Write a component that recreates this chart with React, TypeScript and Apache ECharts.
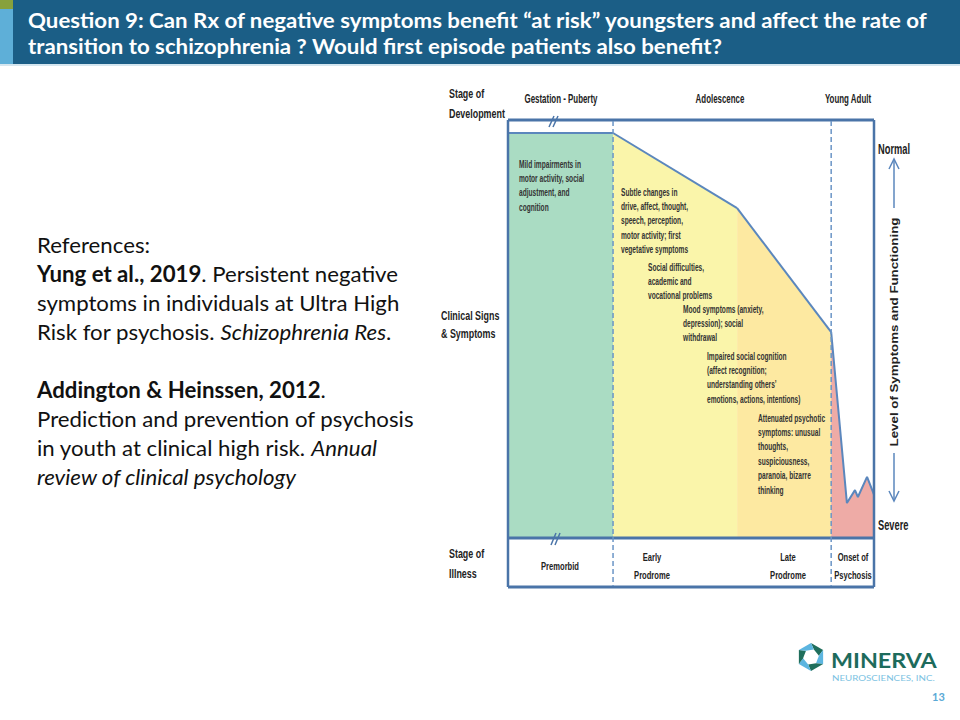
import React, { useEffect, useRef } from "react";
import * as echarts from "echarts";

// ---- Data (x: position along development 0..100, y: level of functioning 0=severe..100=normal)
const premorbid = [[0, 100], [28.7, 100]];
const earlyProdrome = [[28.7, 100], [62.6, 81.4]];
const lateProdrome = [[62.6, 81.4], [88.3, 50.7]];
const psychosis = [[88.3, 50.7], [92.6, 8.4], [94.8, 11.6], [95.6, 9.9], [98.1, 14.9], [100, 10.5]];
const stageSeries = [premorbid, earlyProdrome, lateProdrome, psychosis];
const stageColors = ["#aadcc3", "#faf5aa", "#fde9a1", "#eeaba6"];
const dashedBoundaries = [28.7, 88.3];

const developmentLabels = ["Gestation - Puberty", "Adolescence", "Young Adult"];
const illnessLabels = ["Premorbid", "Early\nProdrome", "Late\nProdrome", "Onset of\nPsychosis"];
const symptomTexts = [
  "Mild impairments in\nmotor activity, social\nadjustment, and\ncognition",
  "Subtle changes in\ndrive, affect, thought,\nspeech, perception,\nmotor activity; first\nvegetative symptoms",
  "Social difficulties,\nacademic and\nvocational problems",
  "Mood symptoms (anxiety,\ndepression); social\nwithdrawal",
  "Impaired social cognition\n(affect recognition;\nunderstanding others’\nemotions, actions, intentions)",
  "Attenuated psychotic\nsymptoms: unusual\nthoughts,\nsuspiciousness,\nparanoia, bizarre\nthinking",
];
const titleText =
  "Question 9: Can Rx of negative symptoms benefit “at risk” youngsters and affect the rate of\ntransition to schizophrenia ? Would first episode patients also benefit?";
const referenceText = [
  "References:",
  "{b|Yung et al., 2019}. Persistent negative",
  "symptoms in individuals at Ultra High",
  "Risk for psychosis. {i|Schizophrenia Res}.",
  "",
  "{b|Addington & Heinssen, 2012}.",
  "Prediction and prevention of psychosis",
  "in youth at clinical high risk. {i|Annual}",
  "{i|review of clinical psychology}",
].join("\n");

const ARIAL = "'Liberation Sans',Arial,sans-serif";
const BORDER = "#4a74a8";
const LINE = "#5b87bd";
const NARROW_SCALE = 0.66;

function txt(text: string, x: number, y: number, font: string, extra: any = {}, el: any = {}) {
  return {
    type: "text",
    x,
    y,
    z: 30,
    silent: true,
    ...el,
    style: { text, font, fill: "#222", align: "left", verticalAlign: "middle", ...extra },
  };
}
function ln(x1: number, y1: number, x2: number, y2: number, stroke: string, lineWidth: number, extra: any = {}) {
  return { type: "line", z: 20, silent: true, shape: { x1, y1, x2, y2 }, style: { stroke, lineWidth, ...extra } };
}

function logoPieces(cx: number, cy: number, R: number, r: number) {
  const out: any[] = [];
  const pt = (rad: number, k: number) => {
    const a = (Math.PI / 3) * k - Math.PI / 2;
    return [cx + rad * Math.cos(a), cy + rad * Math.sin(a)];
  };
  for (let k = 0; k < 6; k++) {
    out.push({
      type: "polygon",
      z: 30,
      silent: true,
      shape: { points: [pt(R, k), pt(R, k + 1), pt(r, k + 1.35), pt(r, k + 0.35)] },
      style: { fill: k % 2 === 0 ? "#1f6e5c" : "#5cb5e0" },
    });
  }
  return out;
}

export default function App() {
  const ref = useRef<HTMLDivElement>(null);
  useEffect(() => {
    if (!ref.current) return;
    const chart = echarts.init(ref.current, null, { renderer: "svg" });
    chart.setOption({
      animation: false,
      backgroundColor: "#ffffff",
      grid: { left: 508, top: 133, width: 366, height: 404 },
      xAxis: { type: "value", min: 0, max: 100, show: false },
      yAxis: { type: "value", min: 0, max: 100, show: false },
      series: stageSeries.map((d, i) => ({
        type: "line",
        data: d,
        symbol: "none",
        silent: true,
        z: 2 + i,
        lineStyle: { color: LINE, width: 2 },
        areaStyle: { color: stageColors[i], opacity: 1 },
      })),
    });

    const [, yTop] = chart.convertToPixel({ gridIndex: 0 }, [0, 100]) as number[];
    const [, yBot] = chart.convertToPixel({ gridIndex: 0 }, [0, 0]) as number[];
    const [xL] = chart.convertToPixel({ gridIndex: 0 }, [0, 0]) as number[];
    const [xR] = chart.convertToPixel({ gridIndex: 0 }, [100, 0]) as number[];
    const boxTop = yTop - 13;
    const boxBottom = yBot + 50;
    const dashX = dashedBoundaries.map((v) => (chart.convertToPixel({ gridIndex: 0 }, [v, 0]) as number[])[0]);

    const g: any[] = [];
    // header
    g.push({ type: "rect", z: 5, silent: true, shape: { x: 0, y: 0, width: 960, height: 64 }, style: { fill: "#1b5e86" } });
    g.push({ type: "rect", z: 6, silent: true, shape: { x: 0, y: 0, width: 13, height: 64 }, style: { fill: "#5eafd8" } });
    g.push({ type: "rect", z: 7, silent: true, shape: { x: 0, y: 0, width: 13, height: 9 }, style: { fill: "#87a13d" } });
    g.push({ type: "rect", z: 6, silent: true, shape: { x: 0, y: 64, width: 960, height: 2 }, style: { fill: "#d5e6ef" } });
    g.push(txt(titleText, 28, 7, "bold 21px Lato", { fill: "#ffffff", verticalAlign: "top", lineHeight: 26 }, { scaleX: 1.06 }));

    // references
    g.push(
      txt(
        referenceText,
        37,
        230,
        "22px Lato",
        {
          fill: "#111",
          verticalAlign: "top",
          lineHeight: 29,
          rich: {
            b: { font: "bold 22px Lato", fill: "#111", lineHeight: 29 },
            i: { font: "italic 22px Lato", fill: "#111", lineHeight: 29 },
          },
        },
        { scaleX: 1.01 }
      )
    );

    // diagram frame
    g.push(ln(xL, boxTop, xR, boxTop, BORDER, 3));
    g.push(ln(xL, boxTop, xL, boxBottom, BORDER, 2.5));
    g.push(ln(xR, boxTop, xR, boxBottom, BORDER, 2.5));
    g.push(ln(xL, yBot + 1, xR, yBot + 1, BORDER, 3));
    g.push(ln(xL, boxBottom, xR, boxBottom, BORDER, 3));
    dashX.forEach((x) => g.push(ln(x, boxTop + 1, x, boxBottom - 1, "#6b95c6", 1.5, { lineDash: [5, 3] })));
    // break marks
    g.push(ln(549, boxTop + 7, 554, boxTop - 4, BORDER, 1.5));
    g.push(ln(553, boxTop + 7, 558, boxTop - 4, BORDER, 1.5));
    g.push(ln(551, yBot + 8, 556, yBot - 4, BORDER, 1.5));
    g.push(ln(555, yBot + 8, 560, yBot - 4, BORDER, 1.5));

    const narrow = { scaleX: NARROW_SCALE };
    // row labels
    g.push(txt("Stage of\nDevelopment", 449, 103, "bold 13.5px " + ARIAL, { lineHeight: 20 }, narrow));
    g.push(txt("Clinical Signs\n& Symptoms", 441, 324, "bold 13.5px " + ARIAL, { lineHeight: 18 }, narrow));
    g.push(txt("Stage of\nIllness", 449, 563, "bold 13.5px " + ARIAL, { lineHeight: 20 }, narrow));

    const devX = [561, 720, 848];
    developmentLabels.forEach((t, i) => g.push(txt(t, devX[i], 99, "bold 12px " + ARIAL, { align: "center" }, narrow)));
    const illX = [560, 652, 788, 853];
    illnessLabels.forEach((t, i) =>
      g.push(txt(t, illX[i], 566, "bold 11.5px " + ARIAL, { align: "center", lineHeight: 18 }, narrow))
    );

    const symPos = [[519, 164], [621, 192], [648, 267], [683, 309], [707, 356], [758, 418]];
    symptomTexts.forEach((t, i) =>
      g.push(
        txt(t, symPos[i][0], symPos[i][1] - 7.2, "bold 10px " + ARIAL, { verticalAlign: "top", lineHeight: 14.4, fill: "#333" }, narrow)
      )
    );

    // right side scale
    g.push(txt("Normal", 878, 149, "bold 15px " + ARIAL, {}, { scaleX: 0.62 }));
    g.push(txt("Severe", 878, 525, "bold 15px " + ARIAL, {}, { scaleX: 0.62 }));
    g.push(ln(894, 208, 894, 160, LINE, 1.5));
    g.push({ type: "polyline", z: 20, silent: true, shape: { points: [[889, 169], [894, 159], [899, 169]] }, style: { stroke: LINE, lineWidth: 1.5, fill: null } });
    g.push(ln(894, 453, 894, 500, LINE, 1.5));
    g.push({ type: "polyline", z: 20, silent: true, shape: { points: [[889, 491], [894, 501], [899, 491]] }, style: { stroke: LINE, lineWidth: 1.5, fill: null } });
    g.push({
      type: "text",
      x: 894,
      y: 332,
      rotation: Math.PI / 2,
      scaleX: 1.33,
      z: 30,
      silent: true,
      style: { text: "Level of Symptoms and Functioning", font: "bold 10px " + ARIAL, fill: "#222", align: "center", verticalAlign: "middle" },
    });

    // logo
    logoPieces(811, 657, 14, 8).forEach((p) => g.push(p));
    g.push(txt("MINERVA", 831, 660, "bold 21px Lato", { fill: "#1d6b5c" }, { scaleX: 1.11 }));
    g.push(txt("NEUROSCIENCES, INC.", 832, 678, "7.5px Lato", { fill: "#7cc2e2" }, { scaleX: 1.3 }));
    g.push(txt("13", 932, 696, "bold 11px Lato", { fill: "#5aa9d6" }));

    chart.setOption({ graphic: g });
    return () => chart.dispose();
  }, []);
  return <div ref={ref} style={{ position: "fixed", left: 0, top: 0, width: 960, height: 720 }} />;
}
